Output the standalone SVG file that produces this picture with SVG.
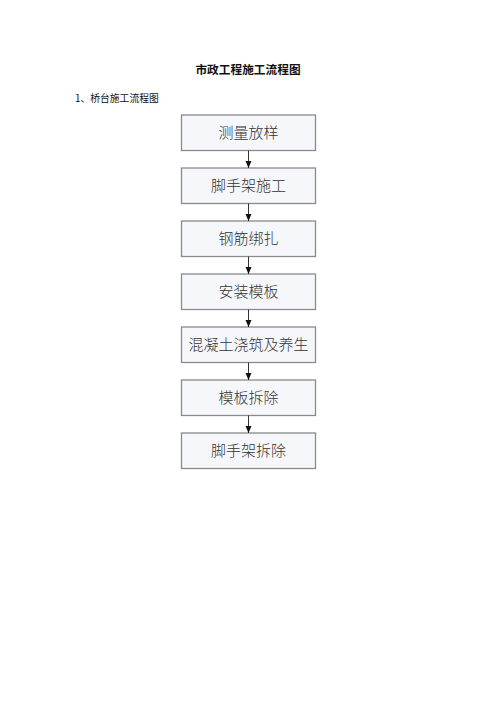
<svg xmlns="http://www.w3.org/2000/svg" width="496" height="702" viewBox="0 0 496 702">
<defs>
<marker id="arr" markerWidth="8" markerHeight="8" refX="7" refY="4" orient="auto" markerUnits="userSpaceOnUse">
<path d="M0,1 L7,4 L0,7 Z" fill="#111"/>
</marker>
</defs>
<style>
.box{fill:#f6f7fb;stroke:#8a8a8a;stroke-width:1.3}
.lbl{font-family:"Noto Sans CJK SC","Noto Sans",sans-serif;font-size:15px;font-weight:300;fill:#333;text-anchor:middle}
.conn{stroke:#333;stroke-width:1;fill:none}
</style>
<rect width="496" height="702" fill="#fff"/>
<text x="248" y="74" font-family="'Noto Sans CJK SC',sans-serif" font-size="11.7" font-weight="bold" fill="#111" text-anchor="middle">市政工程施工流程图</text>
<text x="75" y="101.5" font-family="'Noto Sans CJK SC',sans-serif" font-size="9.8" fill="#111">1、桥台施工流程图</text>
<g id="n1"><rect class="box" x="181.5" y="115" width="134" height="35.5"/><text class="lbl" x="248.5" y="138">测量放样</text></g>
<g id="n2"><rect class="box" x="181.5" y="168" width="134" height="35.5"/><text class="lbl" x="248.5" y="191">脚手架施工</text></g>
<g id="n3"><rect class="box" x="181.5" y="221" width="134" height="35.5"/><text class="lbl" x="248.5" y="244">钢筋绑扎</text></g>
<g id="n4"><rect class="box" x="181.5" y="274" width="134" height="35.5"/><text class="lbl" x="248.5" y="297">安装模板</text></g>
<g id="n5"><rect class="box" x="181.5" y="327" width="134" height="35.5"/><text class="lbl" x="248.5" y="350">混凝土浇筑及养生</text></g>
<g id="n6"><rect class="box" x="181.5" y="380" width="134" height="35.5"/><text class="lbl" x="248.5" y="403">模板拆除</text></g>
<g id="n7"><rect class="box" x="181.5" y="433" width="134" height="35.5"/><text class="lbl" x="248.5" y="456">脚手架拆除</text></g>
<g id="connectors">
<line class="conn" x1="248.5" y1="150.5" x2="248.5" y2="168" marker-end="url(#arr)"/>
<line class="conn" x1="248.5" y1="203.5" x2="248.5" y2="221" marker-end="url(#arr)"/>
<line class="conn" x1="248.5" y1="256.5" x2="248.5" y2="274" marker-end="url(#arr)"/>
<line class="conn" x1="248.5" y1="309.5" x2="248.5" y2="327" marker-end="url(#arr)"/>
<line class="conn" x1="248.5" y1="362.5" x2="248.5" y2="380" marker-end="url(#arr)"/>
<line class="conn" x1="248.5" y1="415.5" x2="248.5" y2="433" marker-end="url(#arr)"/>
</g>
</svg>
